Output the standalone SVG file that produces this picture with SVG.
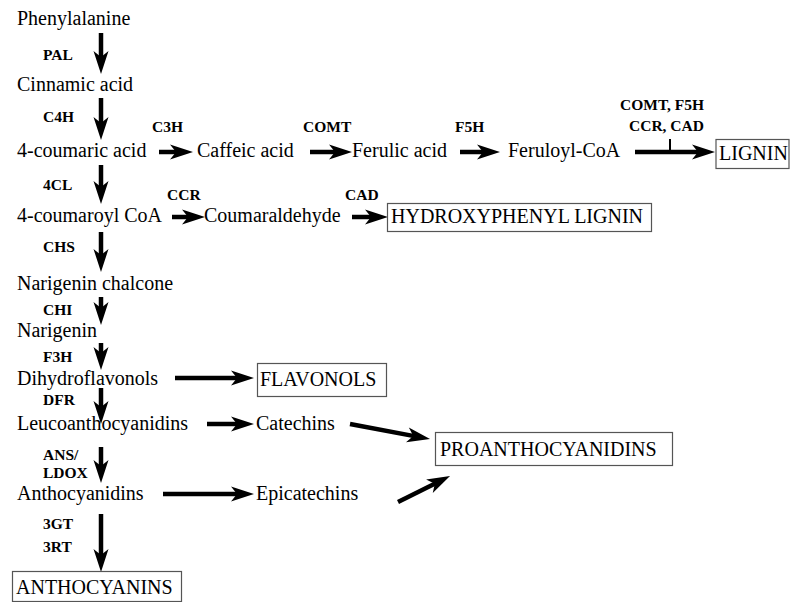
<svg xmlns="http://www.w3.org/2000/svg" width="791" height="602" viewBox="0 0 791 602">
<style>
.t{font-family:'Liberation Serif','Tinos','Times New Roman','DejaVu Serif',serif;font-size:20px;fill:#000}
.e{font-family:'Liberation Serif','Tinos','Times New Roman','DejaVu Serif',serif;font-size:15.5px;font-weight:bold;fill:#000}
.box{fill:#fff;stroke:#555;stroke-width:1.2}
.c{stroke:#000;stroke-width:4.5;fill:none;marker-end:url(#ah)}
.tick{stroke:#000;stroke-width:2;fill:none}
</style>
<defs>
<marker id="ah" markerUnits="userSpaceOnUse" viewBox="-8 -9 26 18" refX="0" refY="0" markerWidth="26" markerHeight="18" orient="auto" overflow="visible">
<path d="M16,0 L-7,-7.5 L-1,0 L-7,7.5 Z" fill="#000"/>
</marker>
</defs>
<rect width="791" height="602" fill="#fff"/>
<g id="connectors">
<path class="c" d="M101,33 V58"/>
<path class="c" d="M101,98 V124"/>
<path class="c" d="M101,165 V188"/>
<path class="c" d="M101,232 V256"/>
<path class="c" d="M101,297 V309"/>
<path class="c" d="M101,343 V354"/>
<path class="c" d="M101,388 V408"/>
<path class="c" d="M101,447 V467"/>
<path class="c" d="M101,514 V556"/>
<path class="c" d="M159,152 H177"/>
<path class="c" d="M310,152 H336"/>
<path class="c" d="M460,152 H484"/>
<path class="c" d="M635,152 H699"/>
<path class="tick" d="M670,139 V152"/>
<path class="c" d="M172,217 H189"/>
<path class="c" d="M352,217 H372"/>
<path class="c" d="M175,378 H238"/>
<path class="c" d="M207,424 H238"/>
<path class="c" d="M163,494 H238"/>
<path class="c" d="M350,424 L414.3,436.1"/>
<path class="c" d="M398,502 L435.7,483.2"/>
</g>
<g id="labels">
<text class="e" x="43" y="60">PAL</text>
<text class="e" x="43" y="122">C4H</text>
<text class="e" x="43" y="190">4CL</text>
<text class="e" x="43" y="252">CHS</text>
<text class="e" x="43" y="315">CHI</text>
<text class="e" x="43" y="362">F3H</text>
<text class="e" x="43" y="405">DFR</text>
<text class="e" x="43" y="460">ANS/</text>
<text class="e" x="43" y="478">LDOX</text>
<text class="e" x="43" y="529">3GT</text>
<text class="e" x="43" y="552">3RT</text>
<text class="e" x="152" y="132">C3H</text>
<text class="e" x="303" y="132">COMT</text>
<text class="e" x="455" y="132">F5H</text>
<text class="e" x="620" y="110">COMT, F5H</text>
<text class="e" x="629" y="131">CCR, CAD</text>
<text class="e" x="167" y="200">CCR</text>
<text class="e" x="345" y="200">CAD</text>
</g>
<g id="phenylalanine"><text class="t" x="17" y="25">Phenylalanine</text></g>
<g id="cinnamic"><text class="t" x="17" y="91">Cinnamic acid</text></g>
<g id="coumaric"><text class="t" x="17" y="157">4-coumaric acid</text></g>
<g id="caffeic"><text class="t" x="197" y="157">Caffeic acid</text></g>
<g id="ferulic"><text class="t" x="352" y="157">Ferulic acid</text></g>
<g id="feruloyl"><text class="t" x="508" y="157">Feruloyl-CoA</text></g>
<g id="lignin"><rect class="box" x="716" y="139.5" width="73" height="29"/><text class="t" x="719" y="160">LIGNIN</text></g>
<g id="coumaroyl"><text class="t" x="17" y="222">4-coumaroyl CoA</text></g>
<g id="coumaraldehyde"><text class="t" x="204" y="222">Coumaraldehyde</text></g>
<g id="hlignin"><rect class="box" x="387.5" y="203.5" width="264" height="28"/><text class="t" x="391" y="223">HYDROXYPHENYL LIGNIN</text></g>
<g id="chalcone"><text class="t" x="17" y="290">Narigenin chalcone</text></g>
<g id="narigenin"><text class="t" x="17" y="337">Narigenin</text></g>
<g id="dihydroflavonols"><text class="t" x="17" y="385">Dihydroflavonols</text></g>
<g id="flavonols"><rect class="box" x="257.5" y="363.5" width="129" height="33"/><text class="t" x="260" y="386">FLAVONOLS</text></g>
<g id="leuco"><text class="t" x="17" y="430">Leucoanthocyanidins</text></g>
<g id="catechins"><text class="t" x="256" y="430">Catechins</text></g>
<g id="proantho"><rect class="box" x="435.5" y="432.5" width="237" height="33"/><text class="t" x="440" y="456">PROANTHOCYANIDINS</text></g>
<g id="anthocyanidins"><text class="t" x="17" y="500">Anthocyanidins</text></g>
<g id="epicatechins"><text class="t" x="256" y="500">Epicatechins</text></g>
<g id="anthocyanins"><rect class="box" x="12.5" y="571.5" width="169" height="30"/><text class="t" x="16" y="594">ANTHOCYANINS</text></g>
</svg>
